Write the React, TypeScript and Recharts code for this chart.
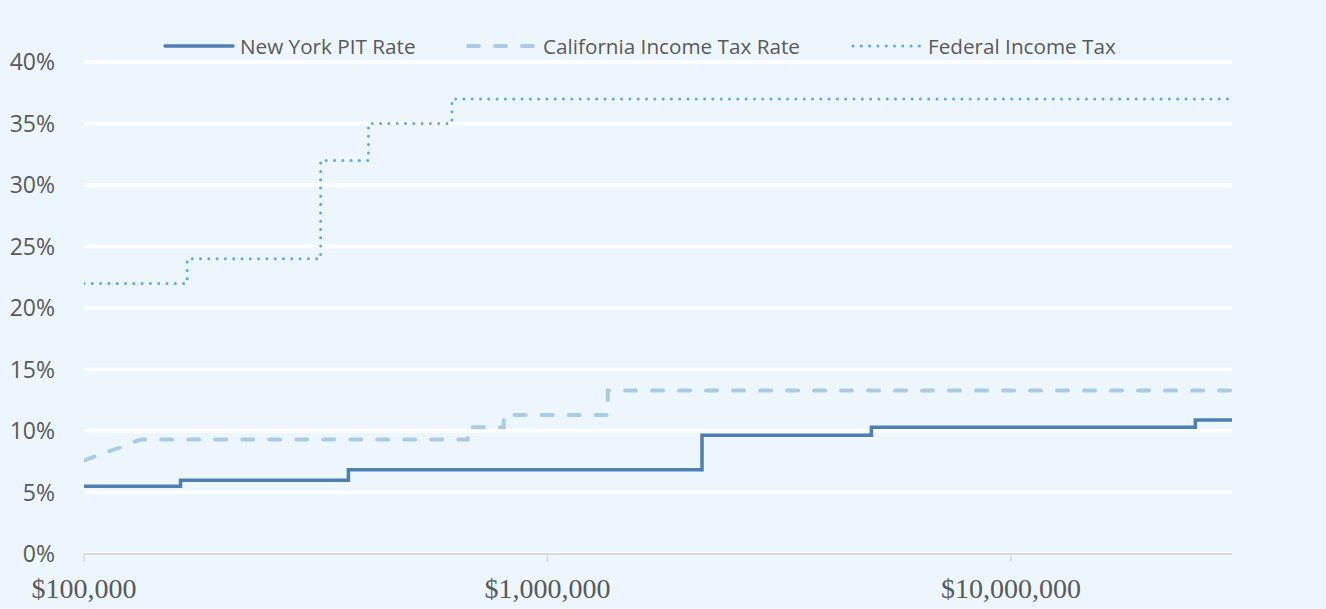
import { CartesianGrid, Line, LineChart, XAxis, YAxis } from 'recharts'

const incomeTicks = [100000, 1000000, 10000000]
const rateTicks = [0, 5, 10, 15, 20, 25, 30, 35, 40]

const nyIncome = [100000, 161550, 372000, 2155350, 5000000, 25000000, 30000000]
const nyRate = [5.5, 6.0, 6.85, 9.65, 10.3, 10.9, 10.9]

const caIncome = [
  100000, 106700, 112000, 120800, 127600, 133000, 673000, 673000, 805000, 805000, 1350000,
  1350000, 30000000,
]
const caRate = [7.6, 8.0, 8.3, 8.7, 9.1, 9.3, 9.3, 10.3, 10.3, 11.3, 11.3, 13.3, 13.3]

const fedIncome = [100000, 167000, 324000, 411000, 622000, 30000000]
const fedRate = [22, 24, 32, 35, 37, 37]

const zip = (xs: number[], ys: number[]) => xs.map((x, i) => ({ income: x, rate: ys[i] }))

const nyData = zip(nyIncome, nyRate)
const caData = zip(caIncome, caRate)
const fedData = zip(fedIncome, fedRate)

const TEXT = '#595959'
const NY_COLOR = '#4e7fb3'
const CA_COLOR = '#a9cce4'
const FED_COLOR = '#5aa8ee'

const legendItems = [
  { name: 'New York PIT Rate', color: NY_COLOR, dash: undefined, width: 3.5, left: 163 },
  { name: 'California Income Tax Rate', color: CA_COLOR, dash: '11 16', width: 4, left: 466 },
  { name: 'Federal Income Tax', color: FED_COLOR, dash: '0 8.3', width: 3, left: 851 },
]

const money = (v: number) => '$' + v.toLocaleString('en-US')

export default function App() {
  return (
    <div
      style={{
        position: 'absolute',
        left: 0,
        top: 0,
        width: 1326,
        height: 609,
        background: '#eef6fd',
        overflow: 'hidden',
      }}
    >
      {legendItems.map((it) => (
        <div
          key={it.name}
          style={{
            position: 'absolute',
            left: it.left,
            top: 32,
            height: 28,
            display: 'flex',
            alignItems: 'center',
            fontFamily: '"Open Sans", sans-serif',
            fontSize: 20.7,
            color: TEXT,
            whiteSpace: 'nowrap',
          }}
        >
          <svg width={72} height={10} style={{ marginRight: 5 }}>
            <line
              x1={2}
              y1={5}
              x2={70}
              y2={5}
              stroke={it.color}
              strokeWidth={it.width}
              strokeDasharray={it.dash}
              strokeLinecap="round"
            />
          </svg>
          {it.name}
        </div>
      ))}
      <LineChart width={1326} height={609} margin={{ top: 62, right: 94, bottom: 0, left: 0 }}>
        <CartesianGrid horizontal vertical={false} stroke="#ffffff" strokeWidth={3.5} />
        <XAxis
          dataKey="income"
          type="number"
          scale="log"
          domain={[100000, 30000000]}
          allowDataOverflow
          ticks={incomeTicks}
          tickFormatter={money}
          height={55}
          axisLine={{ stroke: '#d9d9d9', strokeWidth: 2 }}
          tickLine={{ stroke: '#d9d9d9', strokeWidth: 1.5 }}
          tickSize={8}
          tickMargin={16}
          tick={{ fill: TEXT, fontSize: 28, fontFamily: '"Liberation Serif", serif' }}
        />
        <YAxis
          dataKey="rate"
          type="number"
          domain={[0, 40]}
          ticks={rateTicks}
          tickFormatter={(v) => `${v}%`}
          width={84}
          axisLine={false}
          tickLine={false}
          tickSize={0}
          tickMargin={29}
          tick={{ fill: TEXT, fontSize: 23, fontFamily: '"Open Sans", sans-serif' }}
        />
        <Line
          data={caData}
          dataKey="rate"
          name="California Income Tax Rate"
          type="linear"
          stroke={CA_COLOR}
          strokeWidth={4}
          strokeDasharray="11 16"
          strokeLinecap="round"
          dot={false}
          activeDot={false}
          isAnimationActive={false}
        />
        <Line
          data={nyData}
          dataKey="rate"
          name="New York PIT Rate"
          type="stepAfter"
          stroke={NY_COLOR}
          strokeWidth={3.5}
          dot={false}
          activeDot={false}
          isAnimationActive={false}
        />
        <Line
          data={fedData}
          dataKey="rate"
          name="Federal Income Tax"
          type="stepAfter"
          stroke={FED_COLOR}
          strokeWidth={3}
          strokeDasharray="0 8.3"
          strokeLinecap="round"
          dot={false}
          activeDot={false}
          isAnimationActive={false}
        />
      </LineChart>
    </div>
  )
}
